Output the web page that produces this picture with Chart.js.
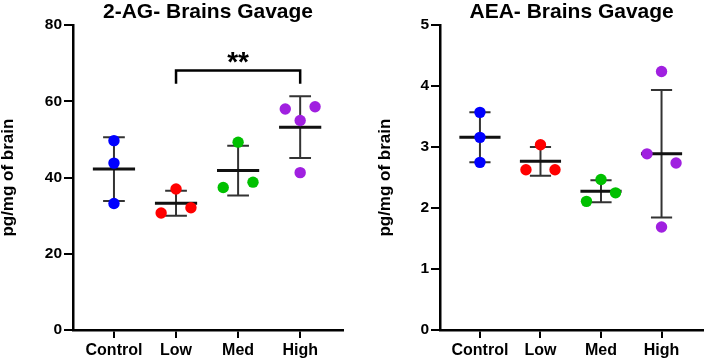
<!DOCTYPE html>
<html>
<head>
<meta charset="utf-8">
<script src="https://cdn.jsdelivr.net/npm/chart.js@4.4.1/dist/chart.umd.min.js"></script>
<style>
  html, body { margin: 0; padding: 0; background: #fff; }
  #wrap { position: relative; width: 709px; height: 360px; }
  #agChart { position: absolute; left: 0; top: 0; }
  #aeaChart { position: absolute; left: 360px; top: 0; }
</style>
</head>
<body>
<div id="wrap">
  <canvas id="agChart" width="360" height="360"></canvas>
  <canvas id="aeaChart" width="349" height="360"></canvas>
</div>
<script>
const groups = ['Control', 'Low', 'Med', 'High'];
const groupColors = ['#0000ff', '#ff0000', '#00c000', '#a020e0'];

// 2-AG (pg/mg of brain)
const agControl = [49.7, 43.8, 33.2];
const agLow = [30.7, 37.0, 32.1];
const agMed = [37.4, 49.3, 38.8];
const agHigh = [58.0, 58.6, 55.0, 41.3];
const agTicks = [0, 20, 40, 60, 80];

// AEA (pg/mg of brain)
const aeaControl = [3.57, 3.16, 2.75];
const aeaLow = [2.63, 3.04, 2.63];
const aeaMed = [2.11, 2.47, 2.25];
const aeaHigh = [2.89, 4.24, 2.74, 1.69];
const aeaTicks = [0, 1, 2, 3, 4, 5];

// sideways spread of the dots: -1 left, 0 centre, 1 right
const agSpread = [[0, 0, 0], [-1, 0, 1], [-1, 0, 1], [-1, 1, 0, 0]];
const aeaSpread = [[0, 0, 0], [-1, 0, 1], [-1, 0, 1], [-1, 0, 1, 0]];

// Low vs High, **
const agSig = { from: 1, to: 3, top: 68.1, foot: 64.6, label: '**' };

const FONT = "'Liberation Sans', Arial, Helvetica, sans-serif";
Chart.defaults.font.family = FONT;
Chart.defaults.color = '#000';

function mean(a) { return a.reduce((s, v) => s + v, 0) / a.length; }
function sd(a) {
  const m = mean(a);
  return Math.sqrt(a.reduce((s, v) => s + (v - m) * (v - m), 0) / (a.length - 1));
}

function makeChart(id, title, data, spread, ticks, yWidth, yTitlePad, padRight, sig) {
  const datasets = [];
  data.forEach((vals, i) => {
    datasets.push({
      data: vals.map((v, j) => ({ x: i + spread[i][j] * 0.24, y: v })),
      backgroundColor: groupColors[i],
      borderWidth: 0,
      pointRadius: 5.7,
      order: 0
    });
  });

  const meanPts = [];
  const errPts = [];
  data.forEach((vals, i) => {
    const m = mean(vals), s = sd(vals);
    meanPts.push({ x: i - 0.34, y: m }, { x: i + 0.34, y: m }, { x: i, y: null });
    errPts.push({ x: i, y: m - s }, { x: i, y: m + s }, { x: i, y: null });
    errPts.push({ x: i - 0.175, y: m + s }, { x: i + 0.175, y: m + s }, { x: i, y: null });
    errPts.push({ x: i - 0.175, y: m - s }, { x: i + 0.175, y: m - s }, { x: i, y: null });
  });
  datasets.push({ data: meanPts, showLine: true, spanGaps: false, pointRadius: 0, borderColor: '#111', borderWidth: 3, order: 1 });
  datasets.push({ data: errPts, showLine: true, spanGaps: false, pointRadius: 0, borderColor: '#333', borderWidth: 2, order: 2 });

  const plugins = [];
  if (sig) {
    datasets.push({
      data: [{ x: sig.from, y: sig.foot }, { x: sig.from, y: sig.top }, { x: sig.to, y: sig.top }, { x: sig.to, y: sig.foot }],
      showLine: true, pointRadius: 0, borderColor: '#000', borderWidth: 2.5, order: 3
    });
    plugins.push({
      id: 'sigLabel',
      afterDatasetsDraw(chart) {
        const { ctx, scales } = chart;
        ctx.save();
        ctx.font = 'bold 28px ' + FONT;
        ctx.fillStyle = '#000';
        ctx.textAlign = 'center';
        ctx.textBaseline = 'alphabetic';
        ctx.fillText(sig.label, scales.x.getPixelForValue((sig.from + sig.to) / 2), scales.y.getPixelForValue(sig.top));
        ctx.restore();
      }
    });
  }

  return new Chart(document.getElementById(id), {
    type: 'scatter',
    data: { datasets },
    plugins,
    options: {
      responsive: false,
      animation: false,
      layout: { padding: { left: 0, right: padRight, top: 0, bottom: 0 } },
      plugins: {
        legend: { display: false },
        tooltip: { enabled: false },
        title: {
          display: true,
          text: title,
          fullSize: false,
          color: '#000',
          font: { family: FONT, size: 21, weight: 'bold' },
          padding: { top: 0, bottom: 0 }
        }
      },
      scales: {
        x: {
          type: 'linear',
          min: -0.66,
          max: 3.69,
          afterBuildTicks: s => { s.ticks = groups.map((g, i) => ({ value: i })); },
          afterFit: s => { s.height = 30; },
          ticks: {
            callback: (v, i) => groups[i],
            font: { family: FONT, size: 16, weight: 'bold' },
            color: '#000',
            padding: 3,
            maxRotation: 0,
            autoSkip: false
          },
          grid: { drawOnChartArea: false, color: '#000', lineWidth: 2, tickLength: 8 },
          border: { color: '#000', width: 2.5 }
        },
        y: {
          min: ticks[0],
          max: ticks[ticks.length - 1],
          afterBuildTicks: s => { s.ticks = ticks.map(v => ({ value: v })); },
          afterFit: s => { s.width = yWidth; },
          ticks: {
            font: { family: FONT, size: 15.5, weight: 'bold' },
            color: '#000',
            padding: 2
          },
          grid: { drawOnChartArea: false, color: '#000', lineWidth: 2, tickLength: 9 },
          border: { color: '#000', width: 2.5 },
          title: {
            display: true,
            text: 'pg/mg of brain',
            color: '#000',
            font: { family: FONT, size: 17, weight: 'bold' },
            padding: { top: yTitlePad, bottom: 0 }
          }
        }
      }
    }
  });
}

makeChart('agChart', '2-AG- Brains Gavage', [agControl, agLow, agMed, agHigh], agSpread, agTicks, 73, -2, 17, agSig);
makeChart('aeaChart', 'AEA- Brains Gavage', [aeaControl, aeaLow, aeaMed, aeaHigh], aeaSpread, aeaTicks, 80, 14.7, 1, null);
</script>
</body>
</html>
